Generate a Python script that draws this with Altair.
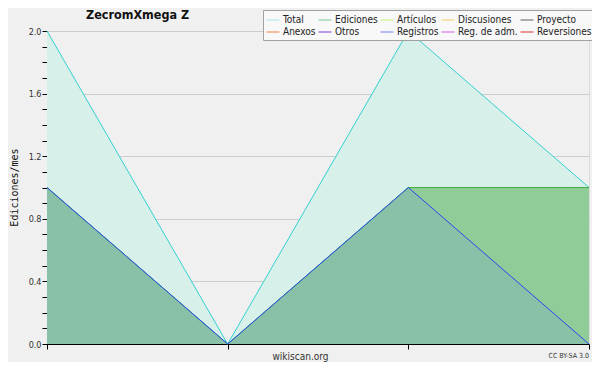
import altair as alt
import pandas as pd

# ---- data ----
periods = [0, 1, 2, 3]
total = [2.0, 0.0, 2.0, 1.0]
ediciones = [1.0, 0.0, 1.0, 1.0]
registros = [1.0, 0.0, 1.0, 0.0]

legend_names = ["Total", "Ediciones", "Artículos", "Discusiones", "Proyecto",
                "Anexos", "Otros", "Registros", "Reg. de adm.", "Reversiones"]
legend_colors = ["#a8e8e8", "#80c890", "#c8f070", "#f0d060", "#606060",
                 "#f08040", "#8040d0", "#7080f0", "#d060e0", "#e03030"]

y_ticks = [0.0, 0.1, 0.2, 0.3, 0.4, 0.5, 0.6, 0.7, 0.8, 0.9, 1.0,
           1.1, 1.2, 1.3, 1.4, 1.5, 1.6, 1.7, 1.8, 1.9, 2.0]

chart_title = "ZecromXmega Z"
credit = "CC BY-SA 3.0"

df = pd.DataFrame({"x": periods, "total": total,
                   "ediciones": ediciones, "registros": registros})
df_leg = pd.DataFrame({"serie": legend_names,
                       "x": [0] * len(legend_names),
                       "v": [0] * len(legend_names)})
df_note = pd.DataFrame({"t": [credit]})
df_title = pd.DataFrame({"t": [chart_title]})

CFONT = "'DejaVu Sans Condensed', 'DejaVu Sans', sans-serif"

x_axis = alt.Axis(values=periods, labels=False, tickSize=5, tickColor="black",
                  domainColor="black", domainWidth=1, grid=False,
                  title="wikiscan.org", titleX=253, titleY=12,
                  titleFont=CFONT, titleFontSize=10, titleFontWeight="normal",
                  titleColor="#333333", titleBaseline="middle")
y_axis = alt.Axis(values=y_ticks, tickSize=5, tickColor="black",
                  domainColor="black", domainWidth=1,
                  labelExpr="round(datum.value*10) % 4 == 0 ? format(datum.value, '.1f') : ''",
                  labelFont=CFONT, labelFontSize=9, labelColor="#333333",
                  labelPadding=1,
                  grid=True, gridColor="#cccccc",
                  gridOpacity={"condition": {"test": "round(datum.value*10) % 4 == 0", "value": 1}, "value": 0},
                  title="Ediciones/mes", titleFont="DejaVu Sans Mono",
                  titleFontSize=10, titleFontWeight="normal",
                  titleColor="#111111", titleX=-38, titleY=156,
                  titleAngle=270, titleAlign="center", titleBaseline="top")
x_scale = alt.Scale(domain=[0, 3], nice=False, zero=False)
y_scale = alt.Scale(domain=[0, 2], nice=False)


def X(field):
    return alt.X(field, scale=x_scale, axis=x_axis)


def Y(field):
    return alt.Y(field, scale=y_scale, axis=y_axis)


base = alt.Chart(df)
area_total = base.mark_area(color="#d8f0ea").encode(x=X("x:Q"), y=Y("total:Q"))
area_ed = base.mark_area(color="#90cc98").encode(x=X("x:Q"), y=Y("ediciones:Q"))
area_reg = base.mark_area(color="#88c0a8").encode(x=X("x:Q"), y=Y("registros:Q"))
line_total = base.mark_line(color="#33d0d0", strokeWidth=1).encode(x=X("x:Q"), y=Y("total:Q"))
line_ed = base.mark_line(color="#40b040", strokeWidth=1).encode(x=X("x:Q"), y=Y("ediciones:Q"))
line_reg = base.mark_line(color="#2848f0", strokeWidth=1).encode(x=X("x:Q"), y=Y("registros:Q"))

legend_layer = alt.Chart(df_leg).mark_line(strokeWidth=1).encode(
    x=X("x:Q"), y=Y("v:Q"),
    stroke=alt.Stroke("serie:N",
                      scale=alt.Scale(domain=legend_names, range=legend_colors),
                      legend=alt.Legend(orient="none", legendX=216, legendY=-21,
                                        direction="horizontal",
                                        columns=5, symbolType="stroke",
                                        symbolSize=169, symbolStrokeWidth=1,
                                        title=None, fillColor="#f8f8f8",
                                        strokeColor="#a0a0a0", padding=3,
                                        labelFont=CFONT, labelFontSize=10,
                                        labelColor="#222222", rowPadding=0,
                                        columnPadding=0, labelOffset=3,
                                        labelLimit=200)),
)

note = alt.Chart(df_note).mark_text(align="right", baseline="middle", fontSize=7,
                                    font=CFONT, color="#333333").encode(
    x=alt.value(542), y=alt.value(325), text="t:N")

title_mark = alt.Chart(df_title).mark_text(align="left", baseline="middle", fontSize=12.5,
                                           fontWeight="bold", font=CFONT,
                                           color="#111111").encode(
    x=alt.value(39), y=alt.value(-16), text="t:N")

chart = alt.layer(area_total, area_ed, area_reg, line_total, line_ed, line_reg,
                  legend_layer, note, title_mark).properties(
    width=542, height=313,
    padding={"left": 39, "top": 23, "right": 3, "bottom": 18},
    autosize=alt.AutoSizeParams(type="none"),
).configure_view(strokeWidth=0, fill="#ececee").configure(background="#f0f0f0")

chart.save("out.html", embed_options={"renderer": "svg", "actions": False})
